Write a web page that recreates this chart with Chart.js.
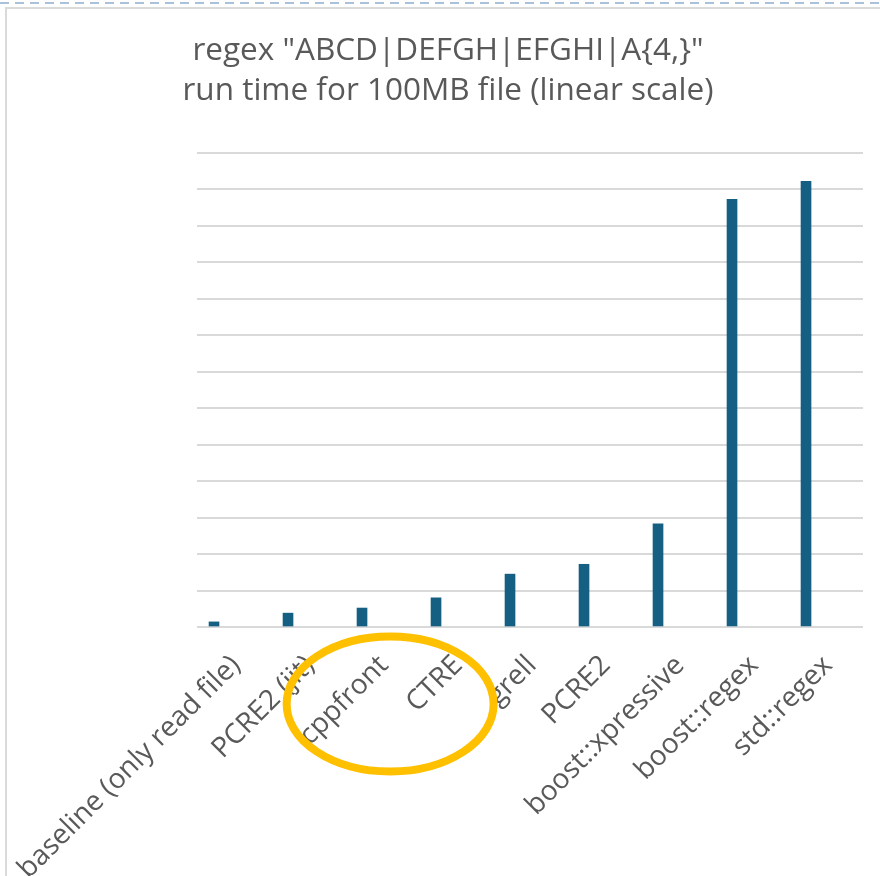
<!DOCTYPE html>
<html>
<head>
<meta charset="utf-8">
<script src="https://cdn.jsdelivr.net/npm/chart.js@4"></script>
<style>
  html, body { margin: 0; padding: 0; background: #fff; width: 880px; height: 876px; overflow: hidden; }
  #dash { position: absolute; left: 0; top: 2px; width: 880px; height: 2px;
          background: repeating-linear-gradient(90deg, #a9c1da 0 9px, transparent 9px 15px); }
  #frame { position: absolute; left: 5px; top: 7px; width: 900px; height: 900px;
           border-left: 2px solid #dadada; border-top: 2px solid #dadada; }
  #wrap { position: absolute; left: 0; top: 0; width: 880px; height: 876px; }
</style>
</head>
<body>
<div id="dash"></div>
<div id="frame"></div>
<div id="wrap"><canvas id="chart" width="880" height="876"></canvas></div>
<script>
// run time, in gridline units (the chart has no y labels)
const categories = [
    "baseline (only read file)", "PCRE2 (jit)", "cppfront", "CTRE", "grell",
    "PCRE2", "boost::xpressive", "boost::regex", "std::regex"
];
const runTimes = [0.14, 0.38, 0.52, 0.80, 1.45, 1.72, 2.83, 11.73, 12.22];
const titleLines = ['regex "ABCD|DEFGH|EFGHI|A{4,}"', "run time for 100MB file (linear scale)"];
const yMax = 13;

const TEXT = "#595959";
const FONT = "'Open Sans', 'Noto Sans', sans-serif";

/* =========================
   ANNOTATION: orange ring round cppfront / CTRE
========================= */
const ringPlugin = {
    id: "ring",
    afterDraw(chart) {
        const { ctx, chartArea, scales } = chart;
        const cx = scales.x.getPixelForValue(2.38);
        const cy = chartArea.bottom + 77;
        ctx.save();
        ctx.strokeStyle = "#FFC000";
        ctx.lineWidth = 8;
        ctx.beginPath();
        ctx.ellipse(cx, cy, 103.5, 67.5, 0, 0, Math.PI * 2);
        ctx.stroke();
        ctx.restore();
    }
};

const ctx = document.getElementById("chart").getContext("2d");

new Chart(ctx, {
    type: "bar",
    data: {
        datasets: [{
            data: runTimes.map((v, i) => ({ x: i, y: v })),
            backgroundColor: "#156082",
            borderWidth: 0,
            barThickness: 10
        }]
    },
    options: {
        responsive: false,
        animation: false,
        layout: { padding: { left: 33, right: 17, top: 0, bottom: 0 } },
        plugins: {
            legend: { display: false },
            tooltip: { enabled: false },
            title: {
                display: true,
                text: titleLines,
                color: TEXT,
                font: { family: FONT, size: 31.5, weight: "normal", lineHeight: "40px" },
                padding: { top: 31, bottom: 42 }
            }
        },
        scales: {
            x: {
                type: "linear",
                offset: false,
                min: -0.23,
                max: 8.77,
                grid: { display: false, drawTicks: false, offset: false },
                border: { display: false },
                afterBuildTicks: s => { s.ticks = categories.map((_, i) => ({ value: i })); },
                afterFit: s => { s.height = 249; s.paddingLeft = 0; s.paddingRight = 0; },
                ticks: {
                    autoSkip: false,
                    minRotation: 45,
                    maxRotation: 45,
                    labelOffset: 22,
                    padding: 22,
                    color: TEXT,
                    font: { family: FONT, size: 28 },
                    callback: v => categories[v]
                }
            },
            y: {
                min: 0,
                max: yMax,
                grid: { color: "#d9d9d9", lineWidth: 2, drawTicks: false },
                border: { display: false },
                ticks: { display: false, stepSize: 1 },
                afterFit: s => { s.width = 164; }
            }
        }
    },
    plugins: [ringPlugin]
});
</script>
</body>
</html>
